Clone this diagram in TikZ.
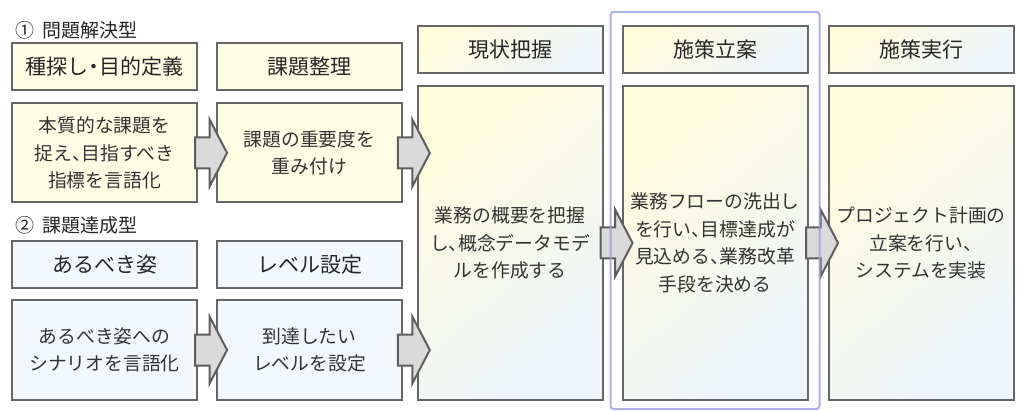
\documentclass[tikz,border=0pt]{standalone}
\usepackage{fontspec}
\setmainfont{Noto Sans CJK JP}[RawFeature=+halt]
\usetikzlibrary{positioning,calc,shapes.arrows}
\definecolor{frameGray}{HTML}{666666}
\definecolor{rowYellow}{HTML}{FFFFE6}
\definecolor{rowBlue}{HTML}{F2F8FC}
\definecolor{gradYellow}{HTML}{FFFCDC}
\definecolor{gradWhite}{HTML}{FFFFF6}
\definecolor{gradBlue}{HTML}{EEF5FC}
\definecolor{arrowGray}{HTML}{DADADA}
\definecolor{arrowEdge}{HTML}{5E5E5E}
\definecolor{markBlue}{HTML}{9A9EE0}
\definecolor{textGray}{HTML}{333333}
\begin{document}
\begin{tikzpicture}[x=1pt,y=-1pt]
  \tikzset{ box/.style={draw=frameGray, line width=2pt, minimum width=185pt, inner sep=2pt, align=center, text=textGray},
            head/.style={box, minimum height=47pt, text=black!85, font=\fontsize{21}{26}\selectfont},
            body/.style={box, font=\fontsize{18.8}{27.5}\selectfont},
            yel/.style={fill=rowYellow}, blu/.style={fill=rowBlue},
            grad/.style={top color=gradYellow, middle color=gradWhite, bottom color=gradBlue, shading angle=40},
            caption/.style={anchor=west, inner sep=0pt, text=black!85, font=\fontsize{19}{22}\selectfont},
            flow/.style={single arrow, draw=arrowEdge, fill=arrowGray, line width=2pt, inner sep=0pt,
                         minimum height=32pt, text height=29pt, text depth=0pt, text width=0pt,
                         single arrow head extend=18pt, single arrow tip angle=125} };
  \useasboundingbox (0,0) rectangle (1024,411);
  % problem solving type
  \node[caption] (typeOne) at (15,30) {①\hspace{8pt}問題解決型};
  \node[head, yel] (seedHead) at (104.5,67) {種探し・目的定義};
  \node[body, yel, minimum height=99pt, below=11pt of seedHead] (seedBody) {本質的な課題を\\捉え、目指すべき\\指標を言語化};
  \node[head, yel, right=18pt of seedHead] (issueHead) {課題整理};
  \node[body, yel, minimum height=99pt, below=11pt of issueHead] (issueBody) {課題の重要度を\\重み付け};
  % goal achieving type
  \node[caption] (typeTwo) at (15,225) {②\hspace{8pt}課題達成型};
  \node[head, blu] (idealHead) at (104.5,264.5) {あるべき姿};
  \node[body, blu, minimum height=100pt, below=10pt of idealHead] (idealBody) {あるべき姿への\\シナリオを言語化};
  \node[head, blu, right=18pt of idealHead] (levelHead) {レベル設定};
  \node[body, blu, minimum height=100pt, below=10pt of levelHead] (levelBody) {到達したい\\レベルを設定};
  % common steps
  \node[head, grad] (asisHead) at (510,49.5) {現状把握};
  \node[body, grad, minimum height=314pt, below=11pt of asisHead] (asisBody) {業務の概要を把握\\し、概念データモデ\\ルを作成する};
  \node[head, grad, right=18pt of asisHead] (planHead) {施策立案};
  \node[body, grad, minimum height=314pt, below=11pt of planHead] (planBody) {業務フローの洗出し\\を行い、目標達成が\\見込める、業務改革\\手段を決める};
  \node[head, grad, right=19pt of planHead] (execHead) {施策実行};
  \node[body, grad, minimum height=314pt, below=11pt of execHead] (execBody) {プロジェクト計画の\\立案を行い、\\システムを実装};
  % block arrows
  \node[flow] (seedArrow) at ($(seedBody.east)!0.5!(issueBody.west)$) {};
  \node[flow] (idealArrow) at ($(idealBody.east)!0.5!(levelBody.west)$) {};
  \node[flow] (issueArrow) at ($(issueBody.east)!0.5!(issueBody.east -| asisBody.west)$) {};
  \node[flow] (levelArrow) at ($(levelBody.east)!0.5!(levelBody.east -| asisBody.west)$) {};
  \node[flow] (asisArrow) at ($(asisBody.east)!0.5!(planBody.west)$) {};
  \node[flow] (planArrow) at ($(planBody.east)!0.5!(execBody.west)$) {};
  % highlight
  \draw[markBlue, line width=2pt, opacity=0.8, rounded corners=3pt]
    ($(planHead.north west)+(-11,-13)$) rectangle ($(planBody.south east)+(11,8)$);
\end{tikzpicture}
\end{document}
